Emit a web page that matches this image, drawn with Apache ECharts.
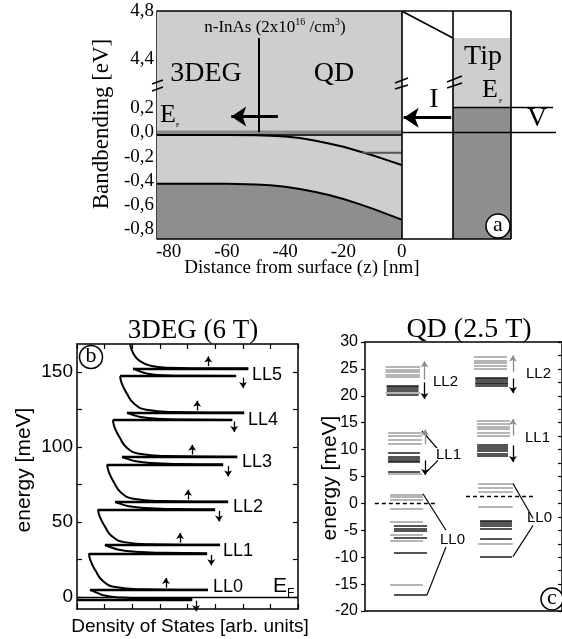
<!DOCTYPE html>
<html>
<head>
<meta charset="utf-8">
<script src="https://cdn.jsdelivr.net/npm/echarts@6/dist/echarts.min.js"></script>
<style>
html, body { margin: 0; padding: 0; background: #fff; }
#main { width: 562px; height: 639px; }
</style>
</head>
<body>
<div id="main"></div>
<script>
// ---------- panel (a): band bending vs distance ----------
var bbDist = [-84, -60, -50, -45, -40, -35, -30, -25, -20, -15, -10, -5, 0];
var bbCond = [-0.022, -0.022, -0.024, -0.028, -0.034, -0.048, -0.068, -0.092, -0.12, -0.155, -0.19, -0.23, -0.27];
var bbVal  = [-0.425, -0.425, -0.43, -0.437, -0.45, -0.468, -0.49, -0.517, -0.55, -0.588, -0.63, -0.675, -0.72];
var bbFermi = 0.0, bbFermiLine = -0.022;
var bbQD = -0.168, bbQDfrom = -13.6;
var bbTipFermi = 0.207, bbTipTop = 0.777;
var bbVacuum = [0, 17.6], bbTip = [17.6, 37.6];
var bbDivider = -49;
var bbBreak = 3.8;            // upper part of the broken axis is shifted down by this
var bbYLabels = [-0.8, -0.6, -0.4, -0.2, 0, 0.2, 0.6, 1.0];
var bbYTicks = [-0.8, -0.7, -0.6, -0.5, -0.4, -0.3, -0.2, -0.1, 0, 0.1, 0.2, 0.3, 0.6, 0.7, 0.8, 0.9, 1.0];
var bbXLabels = [-80, -60, -40, -20, 0];
var bbXTicks = [-80, -70, -60, -50, -40, -30, -20, -10, 0];

// ---------- panel (b): 3DEG density of states, 6 T ----------
var llNames   = ['LL0', 'LL1', 'LL2', 'LL3', 'LL4', 'LL5'];
var llDown    = [-1.5, 29.1, 58.4, 88.4, 118, 147.3];
var llUp      = [4.7, 34.7, 63.5, 93.5, 122.9, 152.4];
var llDownDos = [[0, 4.17], [0.43, 4.71], [0.76, 5.0], [1.09, 5.29], [1.30, 5.62], [1.56, 5.76]];
var llUpDos   = [[0.47, 4.74], [1.01, 5.18], [1.38, 5.47], [1.63, 5.8], [1.81, 6.05], [2.03, 6.2]];
var spinUpX   = [3.22, 3.73, 4.02, 4.17, 4.35, 4.75];
var spinDownX = [4.31, 4.86, 5.14, 5.47, 5.69, 6.01];
var dosCurves = [
  [[0.47, 4.7], [0.7, 3.0], [1.0, 1.0], [1.6, -0.4], [2.6, -1.1], [4.17, -1.4]],
  [[0.43, 29.1], [0.49, 24.2], [0.67, 17.6], [0.93, 10.8], [1.38, 6.65], [2.33, 5.2], [4.74, 4.8]],
  [[1.01, 34.7], [1.22, 33.2], [1.52, 31.5], [2.1, 30.2], [3.1, 29.5], [4.71, 29.2]],
  [[0.76, 58.4], [0.82, 53.7], [1.0, 47.3], [1.26, 40.6], [1.71, 36.6], [2.66, 35.2], [5.18, 34.8]],
  [[1.38, 63.5], [1.58, 62.1], [1.88, 60.5], [2.45, 59.3], [3.5, 58.7], [5.0, 58.5]],
  [[1.09, 88.4], [1.15, 83.4], [1.33, 76.7], [1.59, 69.7], [2.04, 65.5], [2.99, 64.0], [5.47, 63.6]],
  [[1.63, 93.5], [1.83, 92.1], [2.13, 90.5], [2.7, 89.3], [3.7, 88.7], [5.29, 88.5]],
  [[1.30, 118], [1.36, 113.1], [1.54, 106.5], [1.8, 99.6], [2.25, 95.5], [3.2, 94.0], [5.8, 93.6]],
  [[1.81, 122.9], [2.01, 121.5], [2.31, 120.0], [2.9, 118.9], [3.9, 118.3], [5.62, 118.1]],
  [[1.56, 147.3], [1.62, 142.4], [1.80, 135.8], [2.06, 129.0], [2.51, 124.9], [3.46, 123.4], [6.05, 123.0]],
  [[2.03, 152.4], [2.22, 150.9], [2.52, 149.1], [3.13, 147.9], [4.1, 147.5], [5.76, 147.4]],
  [[1.92, 168.7], [2.04, 162.4], [2.28, 157.3], [2.71, 154.0], [3.25, 152.9], [4.3, 152.55], [6.2, 152.5]]
];
var dosEF = 0;

// ---------- panel (c): QD levels, 2.5 T ----------
var qdLeftE = [25.4, 24.9, 24.4, 23.9, 23.5, 21.9, 21.6, 21.3, 21.0, 20.5, 20.2,
               13.1, 12.5, 11.8, 11.0, 9.4, 8.6, 8.3, 8.0, 7.7, 5.8, 5.5,
               1.6, 1.2, 0.6, -1.0, -3.5, -4.2, -4.7, -5.1, -5.8, -6.4, -6.9, -9.1, -15.1, -17.0];
var qdLeftSpin = 'uuuuuddddud' + 'uuuuddddddu' + 'uuuuudddudud' + 'ud';
var qdRightE = [27.2, 26.6, 26.1, 25.6, 25.1, 23.4, 23.1, 22.8, 22.5, 22.2, 21.9,
                15.3, 14.8, 14.3, 13.8, 13.1, 12.5, 10.9, 10.5, 10.1, 9.7, 9.3, 8.9,
                3.7, 3.0, 2.2, -0.7, -3.2, -3.5, -3.8, -4.1, -4.7, -6.6, -7.5, -9.9];
var qdRightSpin = 'uuuuudddddd' + 'uuuuuudddddd' + 'uuuudddddd' + 'ud';
var qdEF = [0, 1.4];

// ---------------------------------------------------------------
var serif = '"Liberation Serif", "Times New Roman", serif';
var sans = '"Liberation Sans", Arial, sans-serif';
var grey = '#cecece', darkGrey = '#8e8e8e';

function pairs(xs, ys) { return xs.map(function (x, i) { return [x, ys[i]]; }); }
function seg(x0, y0, x1, y1, style) {
  var d = { coords: [[x0, y0], [x1, y1]] };
  if (style) d.lineStyle = style;
  return d;
}
function linesSeries(xi, yi, data, width, extra) {
  var s = {
    type: 'lines', coordinateSystem: 'cartesian2d', xAxisIndex: xi, yAxisIndex: yi,
    data: data, silent: true, clip: false, z: 10,
    lineStyle: { color: '#000', width: width, opacity: 1, curveness: 0 },
    symbol: 'none'
  };
  for (var k in extra) s[k] = extra[k];
  return s;
}
function plainLine(xi, yi, data, color, width, z, area) {
  var s = {
    type: 'line', xAxisIndex: xi, yAxisIndex: yi, data: data, symbol: 'none', silent: true,
    lineStyle: { color: color, width: width }, z: z
  };
  if (area) s.areaStyle = { color: area, opacity: 1, origin: 'start' };
  return s;
}

var series = [];

// panel (a)
series.push(plainLine(0, 0, [[-84, 1.0], [0, 1.0]], grey, 0, 1, grey));
series.push(plainLine(0, 0, [[bbTip[0], bbTipTop], [bbTip[1], bbTipTop]], grey, 0, 1, grey));
series.push(plainLine(0, 0, [[bbTip[0], bbTipFermi], [bbTip[1], bbTipFermi]], darkGrey, 0, 2, darkGrey));
series.push(plainLine(0, 0, pairs(bbDist, bbVal), '#000', 2, 3, darkGrey));
series.push(plainLine(0, 0, [[-84, bbFermi], [0, bbFermi]], '#8a8a8a', 3.5, 4));
series.push(plainLine(0, 0, [[-84, bbFermiLine], [0, bbFermiLine]], '#2a2a2a', 2, 5));
series.push(plainLine(0, 0, pairs(bbDist, bbCond), '#000', 2, 5));
series.push(plainLine(0, 0, [[bbQDfrom, bbQD], [0, bbQD]], '#555', 2, 5));
series.push(linesSeries(0, 0, [
  seg(-84, 1.0, bbTip[1], 1.0), seg(-84, -0.88, bbTip[1], -0.88),
  seg(bbTip[1], -0.88, bbTip[1], 1.0), seg(0, -0.88, 0, 1.0),
  seg(bbVacuum[1], -0.88, bbVacuum[1], 1.0), seg(0, 1.0, bbVacuum[1], bbTipTop)
], 1.6));
series.push(linesSeries(0, 0, [
  seg(0, bbFermi, 53, bbFermi), seg(bbTip[0], bbTipFermi, 52, bbTipFermi)
], 1.3));
series.push(linesSeries(0, 0, [seg(bbDivider, bbFermi, bbDivider, bbTipTop)], 2));
series.push(linesSeries(0, 0, [
  seg(-42.5, 0.13, -58.5, 0.13), seg(17, 0.12, 0.7, 0.12)
], 3, { symbol: ['none', 'arrow'], symbolSize: [0, 15] }));

// panel (b)
dosCurves.forEach(function (c) {
  var s = plainLine(2, 1, c, '#000', 2, 5);
  s.smooth = 0.5;
  series.push(s);
});
var llLines = [];
llDown.forEach(function (e, i) { llLines.push(seg(llDownDos[i][0], e, llDownDos[i][1], e)); });
llUp.forEach(function (e, i) { llLines.push(seg(llUpDos[i][0], e, llUpDos[i][1], e)); });
series.push(linesSeries(2, 1, llLines, 2.4));
series.push(linesSeries(2, 1, [seg(0, dosEF, 8, dosEF)], 1.3));
var spinArrows = [];
llUp.forEach(function (e, i) { spinArrows.push(seg(spinUpX[i], e + 1.5, spinUpX[i], e + 8)); });
llDown.forEach(function (e, i) { spinArrows.push(seg(spinDownX[i], e - 1, spinDownX[i], e - 8)); });
series.push(linesSeries(2, 1, spinArrows, 1.3, { symbol: ['none', 'arrow'], symbolSize: [0, 6] }));

// panel (c)
function qdRange(col, e, s) {
  if (col === 0) {
    if (e > 17) return s === 'u' ? [1.04, 2.79] : [1.1, 2.72];
    if (e > 4) return s === 'u' ? [1.17, 2.89] : [1.17, 2.79];
    return s === 'u' ? [1.27, 2.94] : [1.47, 3.15];
  }
  if (e > 17) return s === 'u' ? [5.53, 7.21] : [5.6, 7.26];
  if (e > 4.5) return s === 'u' ? [5.69, 7.36] : [5.69, 7.26];
  return s === 'u' ? [5.74, 7.5] : [5.84, 7.46];
}
var qdLines = [];
[[qdLeftE, qdLeftSpin], [qdRightE, qdRightSpin]].forEach(function (col, ci) {
  col[0].forEach(function (e, i) {
    var s = col[1].charAt(i), r = qdRange(ci, e, s);
    qdLines.push(seg(r[0], e, r[1], e, { color: s === 'u' ? '#9d9d9d' : '#1c1c1c' }));
  });
});
series.push(linesSeries(4, 3, qdLines, 1.5));
series.push(linesSeries(4, 3, [
  seg(2.89, 13.5, 3.65, 10.3), seg(3.71, 8.0, 3.05, 5.6),
  seg(2.94, 1.8, 4.11, -5.0), seg(4.11, -8.1, 3.15, -17.0),
  seg(7.51, 3.7, 8.53, -2.8), seg(8.53, -4.1, 7.51, -9.9)
], 1.2));
series.push(linesSeries(4, 3, [
  seg(0.5, qdEF[0], 3.65, qdEF[0]), seg(5.13, qdEF[1], 8.53, qdEF[1])
], 1.4, { lineStyle: { color: '#000', width: 1.4, opacity: 1, type: [4, 3] } }));
series.push(linesSeries(4, 3, [
  seg(3.02, 23.0, 3.02, 26.4), seg(3.05, 11.0, 3.05, 13.7),
  seg(7.51, 24.4, 7.51, 27.5), seg(7.51, 12.6, 7.51, 15.7)
], 1.3, { symbol: ['none', 'arrow'], symbolSize: [0, 6], lineStyle: { color: '#8c8c8c', width: 1.3, opacity: 1 } }));
series.push(linesSeries(4, 3, [
  seg(3.02, 22.5, 3.02, 19.4), seg(3.05, 8.0, 3.05, 5.3),
  seg(7.51, 23.2, 7.51, 20.5), seg(7.51, 10.8, 7.51, 7.7)
], 1.3, { symbol: ['none', 'arrow'], symbolSize: [0, 6] }));

// ---------------------------------------------------------------
function txt(x, y, text, font, align, extra) {
  var el = {
    type: 'text', x: x, y: y, z: 100, silent: true,
    style: { text: text, font: font, fill: '#000', align: align || 'center', verticalAlign: 'middle',
             textAlign: align || 'center', textVerticalAlign: 'middle' }
  };
  for (var k in extra) el[k] = extra[k];
  return el;
}
function circled(cx, cy, r, ch) {
  return [
    { type: 'circle', z: 100, silent: true, shape: { cx: cx, cy: cy, r: r },
      style: { fill: '#fff', stroke: '#000', lineWidth: 1.5 } },
    txt(cx, cy - 1, ch, '22px ' + serif)
  ];
}
function slash(x0, y0, x1, y1) {
  return { type: 'line', z: 100, silent: true, shape: { x1: x0, y1: y0, x2: x1, y2: y1 },
           style: { stroke: '#000', lineWidth: 1.5 } };
}

var graphic = [
  txt(275, 28, '', '17px ' + serif, 'center',
      { style: { text: 'n-InAs (2x10{s|16} /cm{s|3})', font: '17px ' + serif, fill: '#000',
                 align: 'center', verticalAlign: 'middle', lineHeight: 22,
                 rich: { s: { fontSize: 10, fontFamily: serif, verticalAlign: 'top', lineHeight: 22 } } } }),
  txt(206, 74, '3DEG', '28px ' + serif),
  txt(334, 74, 'QD', '28px ' + serif),
  txt(483, 57, 'Tip', '28px ' + serif),
  txt(434, 100, 'I', '28px ' + serif),
  txt(537, 119, 'V', '28px ' + serif),
  txt(160, 115, 'E', '26px ' + serif, 'left'),
  txt(176, 125, 'F', '6px ' + serif, 'left'),
  txt(482, 90, 'E', '26px ' + serif, 'left'),
  txt(499, 101, 'F', '6px ' + serif, 'left'),
  txt(102, 124, 'Bandbending [eV]', '23px ' + serif, 'center', { rotation: Math.PI / 2 }),
  txt(302, 268, 'Distance from surface (z) [nm]', '19px ' + serif),
  slash(152, 84, 163, 80), slash(152, 91, 163, 87),
  slash(395, 83, 408, 78), slash(395, 89, 408, 85),
  slash(447, 82, 462, 76), slash(447, 88, 462, 83),

  txt(193, 331, '3DEG (6 T)', '27px ' + serif),
  txt(24, 470, 'energy [meV]', '21px ' + sans, 'center', { rotation: Math.PI / 2 }),
  txt(190, 627, 'Density of States [arb. units]', '19px ' + sans),
  txt(273, 586, 'E', '21px ' + sans, 'left'),
  txt(287, 594, 'F', '12px ' + sans, 'left'),

  txt(469, 330, 'QD (2.5 T)', '28px ' + serif),
  txt(330, 478, 'energy [meV]', '21px ' + sans, 'center', { rotation: Math.PI / 2 }),
  txt(433, 382, 'LL2', '15px ' + sans, 'left'),
  txt(526, 374, 'LL2', '15px ' + sans, 'left'),
  txt(436, 455, 'LL1', '15px ' + sans, 'left'),
  txt(525, 438, 'LL1', '15px ' + sans, 'left'),
  txt(440, 540, 'LL0', '15px ' + sans, 'left'),
  txt(527, 518, 'LL0', '15px ' + sans, 'left')
];
var llLabelPos = [[213, 587], [223, 551], [233, 507], [242, 462], [248, 420], [252, 375]];
llNames.forEach(function (n, i) {
  graphic.push(txt(llLabelPos[i][0], llLabelPos[i][1], n, '18px ' + sans, 'left'));
});
graphic = graphic.concat(circled(498, 226, 12, 'a'), circled(91, 357, 11.5, 'b'), circled(552, 599, 11, 'c'));

function tickAxis(extra) {
  var a = {
    type: 'value', splitLine: { show: false },
    axisLine: { show: true, onZero: false, lineStyle: { color: '#000', width: 1.5 } },
    axisTick: { show: true, inside: true, length: 5, lineStyle: { color: '#000', width: 1.2 } },
    axisLabel: { show: false }
  };
  for (var k in extra) a[k] = extra[k];
  return a;
}

var option = {
  animation: false,
  backgroundColor: '#fff',
  grid: [
    { left: 157, top: 11, width: 399, height: 228 },
    { left: 77, top: 344, width: 221, height: 265 },
    { left: 365, top: 342, width: 197, height: 269 }
  ],
  xAxis: [
    tickAxis({ gridIndex: 0, min: -84, max: 53, axisLine: { show: false, onZero: false },
      axisTick: { show: true, inside: true, length: 5, customValues: bbXTicks, lineStyle: { color: '#000', width: 1.2 } },
      axisLabel: { show: true, customValues: bbXLabels, margin: 4, color: '#000', fontSize: 19, fontFamily: serif } }),
    tickAxis({ gridIndex: 0, position: 'top', min: -84, max: 53, axisLine: { show: false, onZero: false },
      axisTick: { show: true, inside: true, length: 5, customValues: bbXTicks, lineStyle: { color: '#000', width: 1.2 } } }),
    tickAxis({ gridIndex: 1, min: 0, max: 8, interval: 1 }),
    tickAxis({ gridIndex: 1, position: 'top', min: 0, max: 8, interval: 1 }),
    tickAxis({ gridIndex: 2, min: 0, max: 10, axisTick: { show: false } }),
    tickAxis({ gridIndex: 2, position: 'top', min: 0, max: 10, axisTick: { show: false } })
  ],
  yAxis: [
    tickAxis({ gridIndex: 0, min: -0.88, max: 1.0,
      axisTick: { show: true, inside: true, length: 5, customValues: bbYTicks, lineStyle: { color: '#000', width: 1.2 } },
      axisLabel: { show: true, customValues: bbYLabels, margin: 3, color: '#000', fontSize: 19, fontFamily: serif,
        formatter: function (v) { var t = v > 0.4 ? v + bbBreak : v; return t.toFixed(1).replace('.', ','); } } }),
    tickAxis({ gridIndex: 1, min: -8, max: 168.7,
      axisTick: { show: true, inside: true, length: 5, customValues: [0, 25, 50, 75, 100, 125, 150], lineStyle: { color: '#000', width: 1.2 } },
      axisLabel: { show: true, customValues: [0, 50, 100, 150], margin: 4, color: '#000', fontSize: 19, fontFamily: sans } }),
    tickAxis({ gridIndex: 1, position: 'right', min: -8, max: 168.7,
      axisTick: { show: true, inside: true, length: 5, customValues: [0, 25, 50, 75, 100, 125, 150], lineStyle: { color: '#000', width: 1.2 } } }),
    tickAxis({ gridIndex: 2, min: -20, max: 30, interval: 5,
      axisTick: { show: true, inside: false, length: 4, lineStyle: { color: '#000', width: 1.2 } },
      axisLabel: { show: true, margin: 7, color: '#000', fontSize: 16, fontFamily: sans } }),
    tickAxis({ gridIndex: 2, position: 'right', min: -20, max: 30, interval: 2.5,
      axisTick: { show: true, inside: true, length: 4, lineStyle: { color: '#000', width: 1.2 } } })
  ],
  series: series,
  graphic: graphic
};

var chart = echarts.init(document.getElementById('main'));
chart.setOption(option);
</script>
</body>
</html>
